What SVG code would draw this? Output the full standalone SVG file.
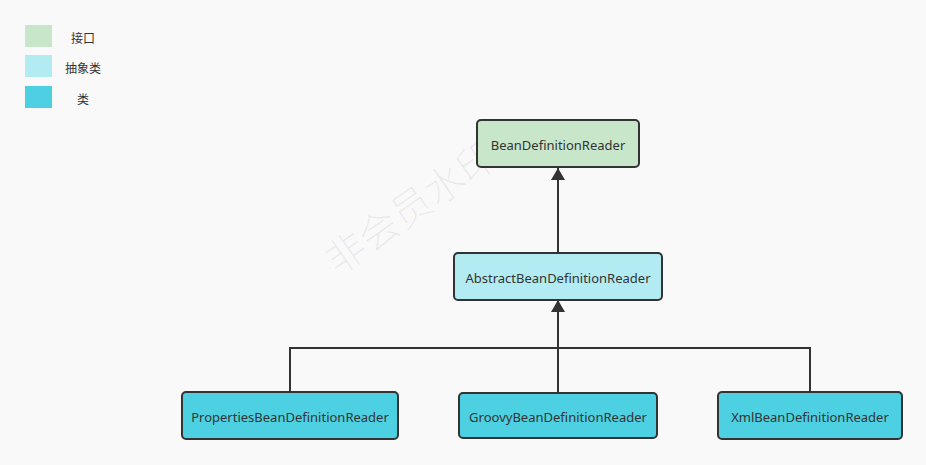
<svg xmlns="http://www.w3.org/2000/svg" width="926" height="465" viewBox="0 0 926 465">
<style>
.node{stroke:#333;stroke-width:2}
.t{font-family:"Noto Sans","Liberation Sans",sans-serif;font-size:13px;fill:#333;text-anchor:middle;dominant-baseline:central}
.lg{font-family:"Noto Sans CJK SC",sans-serif;font-size:12px;fill:#333;text-anchor:middle;dominant-baseline:central}
.c{fill:none;stroke:#333;stroke-width:2}
.wm{font-family:"Noto Sans CJK SC",sans-serif;font-size:40px;font-weight:300;fill:#000;fill-opacity:0.06;text-anchor:middle;dominant-baseline:central}
</style>
<defs>
<marker id="arr" viewBox="0 0 12 14" refX="12" refY="7" markerWidth="12" markerHeight="14" markerUnits="userSpaceOnUse" orient="auto">
<path d="M0,0 L12,7 L0,14 z" fill="#333"/>
</marker>
</defs>
<rect width="926" height="465" fill="#f9f9f9"/>
<g id="legend">
<rect x="25" y="25" width="27" height="22" fill="#c8e6c9"/>
<text class="lg" x="83" y="37">接口</text>
<rect x="25" y="55" width="27" height="22" fill="#b2ebf2"/>
<text class="lg" x="83" y="67">抽象类</text>
<rect x="25" y="86" width="27" height="22" fill="#4dd0e1"/>
<text class="lg" x="83" y="98">类</text>
</g>
<text class="wm" x="410" y="205" transform="rotate(-35 410 205)">非会员水印</text>
<g id="connectors">
<line class="c" x1="558" y1="252" x2="558" y2="168" marker-end="url(#arr)"/>
<path class="c" d="M290,392 V348 H810 V392"/>
<line class="c" x1="558" y1="392" x2="558" y2="300" marker-end="url(#arr)"/>
</g>
<g id="n-bdr">
<rect class="node" x="477" y="120" width="162" height="47" rx="4" fill="#c8e6c9"/>
<text class="t" x="558" y="145">BeanDefinitionReader</text>
</g>
<g id="n-abdr">
<rect class="node" x="454" y="253" width="208" height="47" rx="4" fill="#b2ebf2"/>
<text class="t" x="558" y="278">AbstractBeanDefinitionReader</text>
</g>
<g id="n-pbdr">
<rect class="node" x="182" y="392" width="216" height="47" rx="4" fill="#4dd0e1"/>
<text class="t" x="290" y="417">PropertiesBeanDefinitionReader</text>
</g>
<g id="n-gbdr">
<rect class="node" x="459" y="393" width="198" height="45" rx="4" fill="#4dd0e1"/>
<text class="t" x="558" y="417">GroovyBeanDefinitionReader</text>
</g>
<g id="n-xbdr">
<rect class="node" x="718" y="392" width="184" height="47" rx="4" fill="#4dd0e1"/>
<text class="t" x="810" y="417">XmlBeanDefinitionReader</text>
</g>
</svg>
